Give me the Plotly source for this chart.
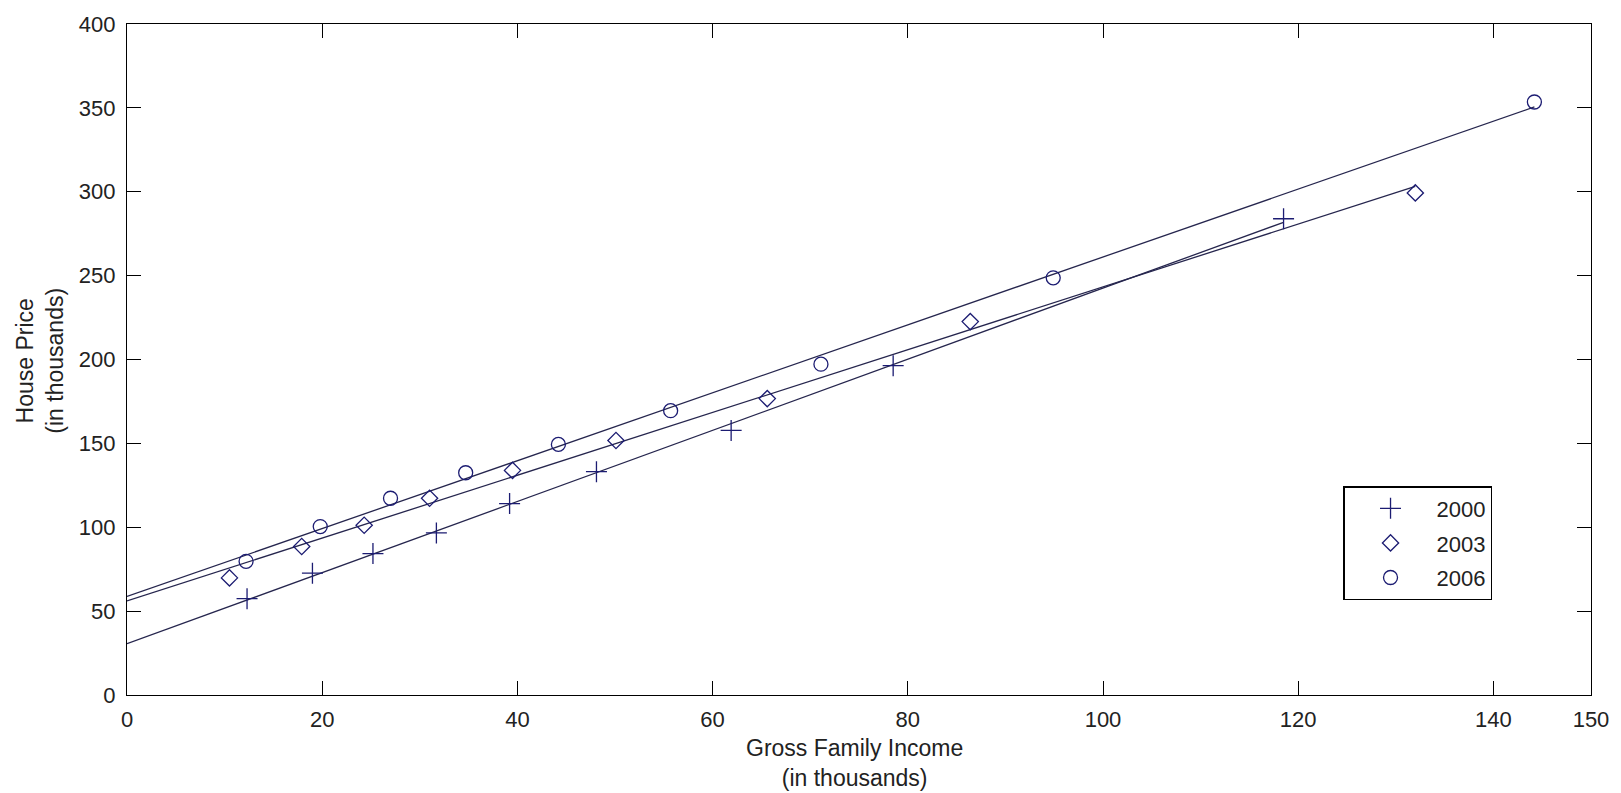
import numpy as np
import plotly.graph_objects as go

# Data (thousands)
years = ["2000", "2003", "2006"]
income_2000 = [12.3, 19.0, 25.2, 31.7, 39.2, 48.1, 61.9, 78.5, 118.5]
price_2000 = [57.4, 72.6, 84.3, 96.6, 114.1, 133.1, 157.7, 196.3, 283.9]
income_2003 = [10.5, 17.9, 24.3, 31.0, 39.5, 50.1, 65.6, 86.4, 132.0]
price_2003 = [69.8, 88.5, 101.2, 117.3, 133.9, 151.7, 176.7, 222.6, 299.3]
income_2006 = [12.2, 19.8, 27.0, 34.7, 44.2, 55.7, 71.1, 94.9, 144.2]
price_2006 = [79.7, 100.4, 117.3, 132.5, 149.4, 169.5, 197.2, 248.7, 353.5]
symbols = ["cross-thin-open", "diamond-open", "circle-open"]
sizes = [15, 12.5, 14]

x_ticks = [0, 20, 40, 60, 80, 100, 120, 140, 150]
y_ticks = [0, 50, 100, 150, 200, 250, 300, 350, 400]

series = [(income_2000, price_2000), (income_2003, price_2003), (income_2006, price_2006)]

MARK = "#1c1c72"
LINE = "#26264e"
FONT = "Liberation Sans, Arial, sans-serif"

fig = go.Figure()
for (xs, ys), name, sym, sz in zip(series, years, symbols, sizes):
    slope, icpt = np.polyfit(xs, ys, 1)
    xl = [0, max(xs)]
    yl = [icpt + slope * v for v in xl]
    fig.add_trace(go.Scatter(x=xl, y=yl, mode="lines", showlegend=False,
                             line=dict(color=LINE, width=1.3), hoverinfo="skip"))
for (xs, ys), name, sym, sz in zip(series, years, symbols, sizes):
    fig.add_trace(go.Scatter(x=xs, y=ys, mode="markers", name=name, legendgroup=name,
                             marker=dict(symbol=sym, size=sz, color=MARK,
                                         line=dict(color=MARK, width=1.3))))

axis_common = dict(showline=True, linecolor="black", linewidth=1.2, mirror="ticks",
                   ticks="inside", ticklen=14, tickcolor="black", tickwidth=1.2,
                   showgrid=False, zeroline=False,
                   tickfont=dict(family=FONT, size=22, color="#222222"))

fig.update_layout(
    width=1621, height=793,
    margin=dict(l=127, r=26, t=21, b=98),
    paper_bgcolor="white", plot_bgcolor="white",
    font=dict(family=FONT, size=22, color="#222222"),
    xaxis=dict(range=[0, 150], tickvals=x_ticks, ticktext=[str(v) for v in x_ticks],
               ticklabelstandoff=4, **axis_common),
    yaxis=dict(range=[0, 400], tickvals=y_ticks, ticktext=[str(v) for v in y_ticks],
               ticklabelstandoff=6, **axis_common),
    legend=dict(x=0.9326, y=0.311, xanchor="right", yanchor="top",
                bgcolor="white", bordercolor="black", borderwidth=1.2,
                itemwidth=82, tracegroupgap=3,
                font=dict(family=FONT, size=22, color="#222222")),
    annotations=[
        dict(text="Gross Family Income<br>(in thousands)", xref="paper", yref="paper",
             x=0.497, y=-0.1009, xanchor="center", yanchor="middle", showarrow=False,
             font=dict(family=FONT, size=23, color="#222222")),
        dict(text="House Price<br>(in thousands)", xref="paper", yref="paper",
             x=-0.0600, y=0.4985, xanchor="center", yanchor="middle", showarrow=False,
             textangle=-90, font=dict(family=FONT, size=23, color="#222222")),
    ],
)

fig.write_html("out.html")
